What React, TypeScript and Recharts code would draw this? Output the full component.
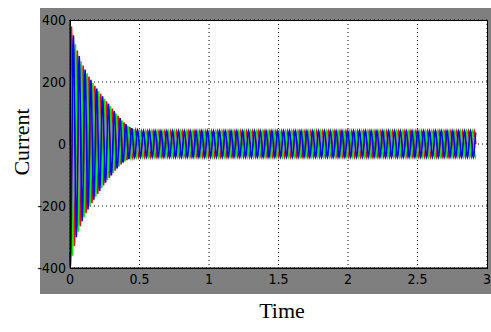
import React from 'react';
import { LineChart, Line, XAxis, YAxis, CartesianGrid } from 'recharts';

// one drawn cycle of each phase (normalised), a plain sine sampled 12 times
const cycleShape = [0, 0.5, 0.87, 1, 0.87, 0.5, 0, -0.5, -0.87, -1, -0.87, -0.5];
// peak values per cycle during the start-up transient
const upperPeaks = [400, 315, 262, 225, 194, 168, 144, 120, 96, 74, 57, 47];
const lowerPeaks = [400, 305, 252, 214, 182, 154, 127, 103, 80, 61, 49, 43];
const steadyPeak = 42;
const cyclePeriod = 0.042;
const endTime = 2.92;
const phaseShift = [0, 4, 8];

const xTicks = [0, 0.5, 1, 1.5, 2, 2.5, 3];
const yTicks = [-400, -200, 0, 200, 400];

const peakAt = (peaks: number[], pos: number) => {
  const c = Math.floor(pos);
  const p0 = c < peaks.length ? peaks[c] : steadyPeak;
  const p1 = c + 1 < peaks.length ? peaks[c + 1] : steadyPeak;
  const f = pos - c;
  return p0 + (p1 - p0) * f;
};

const buildRows = () => {
  const rows: { t: number; a: number; b: number; c: number }[] = [];
  const n = cycleShape.length;
  const dt = cyclePeriod / n;
  for (let i = 0; i * dt <= endTime; i++) {
    const vals = phaseShift.map((s) => {
      const k = (i + s) % n;
      const shape = cycleShape[k];
      const pos = i / n;
      return shape >= 0 ? shape * peakAt(upperPeaks, pos) : shape * peakAt(lowerPeaks, pos);
    });
    rows.push({ t: i * dt, a: vals[0], b: vals[1], c: vals[2] });
  }
  return rows;
};

const data = buildRows();

const tickStyle = { fill: '#000', fontSize: 14, fontFamily: '"Liberation Sans Narrow", "DejaVu Sans Condensed", sans-serif' };

export default function App() {
  return (
    <div style={{ position: 'absolute', left: 0, top: 0, width: 491, height: 332, background: '#fff' }}>
      <div style={{ position: 'absolute', left: 40, top: 8, width: 451, height: 286, background: '#7f7f7f' }} />
      <div style={{ position: 'absolute', left: 0, top: 0 }}>
        <LineChart width={491} height={332} data={data} margin={{ top: 20, right: 4, left: 40, bottom: 34 }}>
          <CartesianGrid stroke="#000" strokeDasharray="1 3" fill="#fff" />
          <XAxis
            dataKey="t"
            type="number"
            domain={[0, 3]}
            ticks={xTicks}
            height={30}
            axisLine={{ stroke: '#000' }}
            tickLine={false}
            tickSize={0}
            tickMargin={6}
            tick={tickStyle}
          />
          <YAxis
            domain={[-400, 400]}
            ticks={yTicks}
            width={30}
            axisLine={{ stroke: '#000' }}
            tickLine={false}
            tickSize={0}
            tickMargin={4}
            tick={tickStyle}
          />
          <Line dataKey="a" stroke="#ff0000" strokeWidth={1.6} dot={false} isAnimationActive={false} />
          <Line dataKey="b" stroke="#00ee00" strokeWidth={1.6} dot={false} isAnimationActive={false} />
          <Line dataKey="c" stroke="#0000ff" strokeWidth={1.6} dot={false} isAnimationActive={false} />
        </LineChart>
      </div>
      <div style={{ position: 'absolute', left: 70, top: 20, width: 416, height: 247, border: '1px solid #000' }} />
      <div
        style={{
          position: 'absolute',
          left: 282,
          top: 322,
          transform: 'translate(-50%, -100%)',
          fontFamily: '"Liberation Serif", serif',
          fontSize: 22,
          lineHeight: 1,
          whiteSpace: 'nowrap',
        }}
      >
        Time
      </div>
      <div
        style={{
          position: 'absolute',
          left: 22,
          top: 142,
          transform: 'translate(-50%, -50%) rotate(-90deg)',
          fontFamily: '"Liberation Serif", serif',
          fontSize: 22,
          lineHeight: 1,
          whiteSpace: 'nowrap',
        }}
      >
        Current
      </div>
    </div>
  );
}
